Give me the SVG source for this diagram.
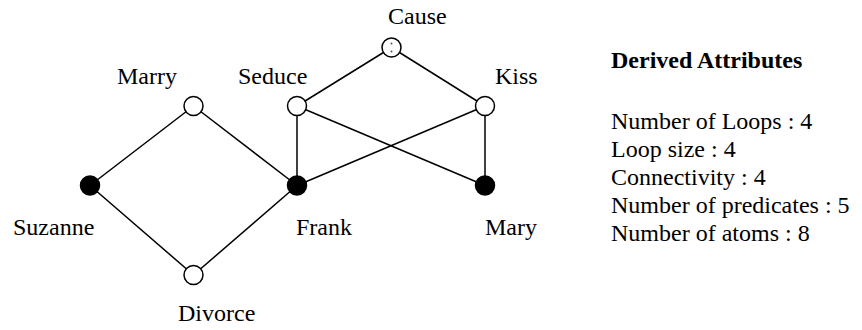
<svg xmlns="http://www.w3.org/2000/svg" width="862" height="330" viewBox="0 0 862 330">
<style>
.bg{fill:#ffffff}
.edge{stroke:#000;stroke-width:1.5;fill:none}
.open{fill:#fff;stroke:#000;stroke-width:1.5}
.filled{fill:#000;stroke:#000;stroke-width:1.5}
.lbl{font-family:"Liberation Serif","Times New Roman",serif;font-size:24px;fill:#000}
.title{font-family:"Liberation Serif","Times New Roman",serif;font-size:24px;font-weight:bold;fill:#000}
.dot{fill:#555}
</style>
<rect class="bg" x="0" y="0" width="862" height="330"/>
<g id="connectors">
<line class="edge" x1="391.5" y1="47.5" x2="297" y2="106"/>
<line class="edge" x1="391.5" y1="47.5" x2="485" y2="106"/>
<line class="edge" x1="297" y1="106" x2="297" y2="185.5"/>
<line class="edge" x1="297" y1="106" x2="485" y2="185.5"/>
<line class="edge" x1="485" y1="106" x2="297" y2="185.5"/>
<line class="edge" x1="485" y1="106" x2="485" y2="185.5"/>
<line class="edge" x1="193.5" y1="106" x2="90" y2="185.5"/>
<line class="edge" x1="193.5" y1="106" x2="297" y2="185.5"/>
<line class="edge" x1="90" y1="185.5" x2="193.5" y2="275"/>
<line class="edge" x1="193.5" y1="275" x2="297" y2="185.5"/>
</g>
<g id="cause">
<circle class="open" cx="391.5" cy="47.5" r="9.5"/>
<circle class="dot" cx="391.5" cy="43.5" r="1"/>
<circle class="dot" cx="391.5" cy="51.5" r="1"/>
<text class="lbl" x="388" y="24">Cause</text>
</g>
<g id="marry">
<circle class="open" cx="193.5" cy="106" r="9.5"/>
<text class="lbl" x="117" y="84">Marry</text>
</g>
<g id="seduce">
<circle class="open" cx="297" cy="106" r="9.5"/>
<text class="lbl" x="238" y="84">Seduce</text>
</g>
<g id="kiss">
<circle class="open" cx="485" cy="106" r="9.5"/>
<text class="lbl" x="495" y="84">Kiss</text>
</g>
<g id="suzanne">
<circle class="filled" cx="90" cy="185.5" r="9.5"/>
<text class="lbl" x="13" y="235">Suzanne</text>
</g>
<g id="frank">
<circle class="filled" cx="297" cy="185.5" r="9.5"/>
<text class="lbl" x="296" y="235">Frank</text>
</g>
<g id="mary">
<circle class="filled" cx="485" cy="185.5" r="9.5"/>
<text class="lbl" x="485" y="235">Mary</text>
</g>
<g id="divorce">
<circle class="open" cx="193.5" cy="275" r="9.5"/>
<text class="lbl" x="178" y="321">Divorce</text>
</g>
<g id="attributes">
<text class="title" x="611" y="68">Derived Attributes</text>
<text class="lbl" x="611" y="129">Number of Loops : 4</text>
<text class="lbl" x="611" y="157">Loop size : 4</text>
<text class="lbl" x="611" y="185">Connectivity : 4</text>
<text class="lbl" x="611" y="213">Number of predicates : 5</text>
<text class="lbl" x="611" y="241">Number of atoms : 8</text>
</g>
</svg>
